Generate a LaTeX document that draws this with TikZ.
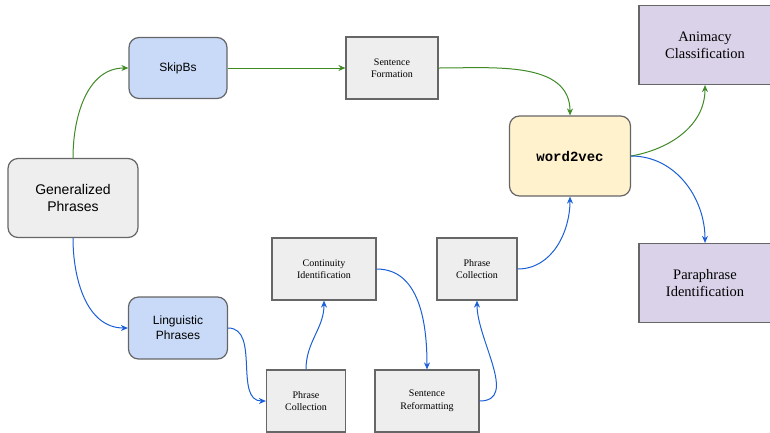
\documentclass[tikz,border=0pt]{standalone}
\usepackage{fontspec}
\setmainfont{Liberation Serif}
\setsansfont{Liberation Sans}
\setmonofont{Liberation Mono}
\usepackage{xcolor}
\definecolor{EdgeGrey}{HTML}{666666}
\definecolor{LightBlue}{HTML}{C9DAF8}
\definecolor{LightGrey}{HTML}{EEEEEE}
\definecolor{LightYellow}{HTML}{FFF2CC}
\definecolor{LightPurple}{HTML}{D9D2E9}
\definecolor{DarkGreen}{HTML}{3F8A25}
\definecolor{DarkBlue}{HTML}{1A5FD6}
\usepackage{tikz}
\usetikzlibrary{arrows.meta,positioning}
\tikzstyle{roundbox}=[rectangle,rounded corners=10pt,draw=EdgeGrey,line width=1.2pt,
                     align=center,font=\sffamily]
\tikzstyle{plainbox}=[rectangle,draw=EdgeGrey,line width=1.2pt,fill=LightGrey,
                     align=center,font=\fontsize{10}{12.5}\selectfont,
                     minimum height=62pt,minimum width=92pt]
\tikzstyle{taskbox}=[rectangle,draw=EdgeGrey,line width=1.2pt,fill=LightPurple,
                     align=center,font=\fontsize{14.5}{17}\selectfont,
                     minimum height=79pt,minimum width=132pt]
\tikzstyle{greenflow}=[draw=DarkGreen,line width=1pt,-{Stealth[length=7pt,width=6pt]}]
\tikzstyle{blueflow}=[draw=DarkBlue,line width=1pt,-{Stealth[length=7pt,width=6pt]}]

\begin{document}
\begin{tikzpicture}[x=1pt,y=-1pt]
      \useasboundingbox (0,0) rectangle (770,432);
      \clip (0,0) rectangle (770,432);
      % boxes
      \node[roundbox,fill=LightGrey,minimum width=130pt,minimum height=79pt,font=\sffamily\fontsize{14}{17}\selectfont] (general) at (73,198) {Generalized\\Phrases};
      \node[roundbox,fill=LightBlue,minimum width=98pt,minimum height=61pt,font=\sffamily\fontsize{12}{15}\selectfont] (skipbs) at (178,68) {SkipBs};
      \node[roundbox,fill=LightBlue,minimum width=99pt,minimum height=62pt,font=\sffamily\fontsize{12}{15}\selectfont] (ling) at (178,328) {Linguistic\\Phrases};
      \node[plainbox] (sentform) at (392,68) {Sentence\\Formation};
      \node[roundbox,fill=LightYellow,minimum width=121pt,minimum height=80pt,font=\ttfamily\bfseries\fontsize{14}{17}\selectfont] (wordvec) at (570,156) {word2vec};
      \node[taskbox] (animacy) at (705,45) {Animacy\\Classification};
      \node[taskbox] (para) at (705,283) {Paraphrase\\Identification};
      \node[plainbox,minimum width=79pt] (collectA) at (306,401) {Phrase\\Collection};
      \node[plainbox,minimum width=104pt] (contin) at (324,269) {Continuity\\Identification};
      \node[plainbox,minimum width=104pt] (reform) at (427,401) {Sentence\\Reformatting};
      \node[plainbox,minimum width=80pt] (collectB) at (477,269) {Phrase\\Collection};
      % green path
      \draw[greenflow] (general.north) to[out=90,in=180] (skipbs.west);
      \draw[greenflow] (skipbs.east) -- (sentform.west);
      \draw[greenflow] (sentform.east) to[out=0,in=90] (wordvec.north);
      \draw[greenflow] (wordvec.east) to[out=10,in=-90] (animacy.south);
      % blue path
      \draw[blueflow] (general.south) to[out=-90,in=180] (ling.west);
      \draw[blueflow] (ling.east) to[out=0,in=180] (collectA.west);
      \draw[blueflow] (collectA.north) to[out=90,in=-90] (contin.south);
      \draw[blueflow] (contin.east) to[out=0,in=90] (reform.north);
      \draw[blueflow] (reform.east) to[out=0,in=-90] (collectB.south);
      \draw[blueflow] (collectB.east) to[out=0,in=-90] (wordvec.south);
      \draw[blueflow] (wordvec.east) to[out=0,in=90] (para.north);
   \end{tikzpicture}
\end{document}
